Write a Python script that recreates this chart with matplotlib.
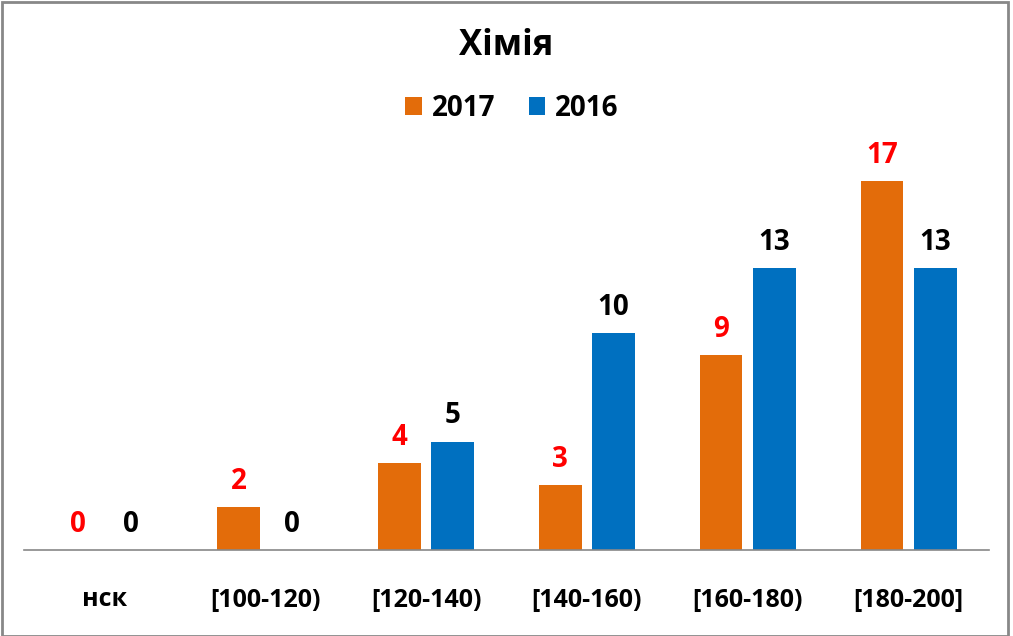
import numpy as np
import matplotlib
matplotlib.use("Agg")
import matplotlib.pyplot as plt
from matplotlib.patches import Rectangle

plt.rcParams['font.family'] = ['Open Sans', 'DejaVu Sans']

categories = ["нск", "[100-120)", "[120-140)", "[140-160)", "[160-180)", "[180-200]"]
vals_2017 = [0, 2, 4, 3, 9, 17]
vals_2016 = [0, 0, 5, 10, 13, 13]
title = "Хімія"

orange = "#E36C0A"
blue = "#0070C0"

fig = plt.figure(figsize=(10.13, 6.36), dpi=100)
# axes: x 24..989 px, baseline at y=550, top at y=150
W, H = 1013, 636
ax = fig.add_axes([24 / W, (H - 550) / H, (989 - 24) / W, 400 / H])

x = np.arange(len(categories))
bw = 0.265
off = 0.166
b1 = ax.bar(x - off, vals_2017, bw, color=orange, label="2017")
b2 = ax.bar(x + off, vals_2016, bw, color=blue, label="2016")

for xi, v in zip(x, vals_2017):
    ax.annotate(str(v), (xi - off, v), xytext=(0, 13), textcoords="offset points",
                ha="center", va="baseline", color="red", fontsize=20, fontweight="bold")
for xi, v in zip(x, vals_2016):
    ax.annotate(str(v), (xi + off, v), xytext=(0, 13), textcoords="offset points",
                ha="center", va="baseline", color="black", fontsize=20, fontweight="bold")

ax.set_xlim(-0.5, 5.5)
ax.set_ylim(0, 400 / 21.7)
ax.set_xticks(x)
ax.set_xticklabels(categories, fontsize=18, fontweight="bold")
ax.tick_params(axis="x", length=0, pad=27)
ax.set_yticks([])
for s in ["top", "right", "left"]:
    ax.spines[s].set_visible(False)
ax.spines["bottom"].set_color("#888888")
ax.spines["bottom"].set_linewidth(1.2)

fig.text(506 / W, 1 - 46 / H, title, ha="center", va="center",
         fontsize=25, fontweight="bold")
fig.legend(handles=[b1, b2], loc="center", bbox_to_anchor=(512 / W, 1 - 108 / H),
           ncol=2, frameon=False, handlelength=0.6, handleheight=0.6,
           handletextpad=0.35, columnspacing=1.2,
           prop={"size": 20, "weight": "bold"})

fig.patches.append(Rectangle((2 / W, 0), 1006 / W, 1 - 2 / H, transform=fig.transFigure,
                             fill=False, edgecolor="#888888", linewidth=2))

fig.savefig("out.png", dpi=100)
